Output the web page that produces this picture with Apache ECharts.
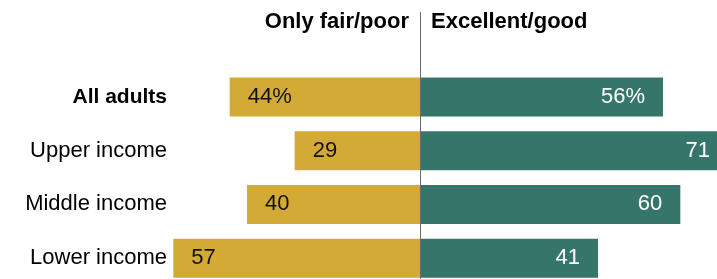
<!DOCTYPE html>
<html>
<head>
<meta charset="utf-8">
<script src="https://cdn.jsdelivr.net/npm/echarts@6/dist/echarts.min.js"></script>
<style>
  html, body { margin: 0; padding: 0; background: #fff; }
  #chart { width: 717px; height: 279px; }
</style>
</head>
<body>
<div id="chart"></div>
<script>
var categories = ['All adults', 'Upper income', 'Middle income', 'Lower income'];
var fairPoor = [44, 29, 40, 57];
var excellentGood = [56, 71, 60, 41];
var headers = ['Only fair/poor', 'Excellent/good'];

var font = "'Liberation Sans', Arial, sans-serif";
var chart = echarts.init(document.getElementById('chart'));

function valueLabel(p) {
    var v = Math.abs(p.value);
    return p.dataIndex === 0 ? v + '%' : String(v);
}

var option = {
    animation: false,
    title: [{
        text: headers[0],
        right: 308,
        top: 11,
        padding: 0,
        textStyle: { fontFamily: font, fontSize: 22, fontWeight: 'bold', color: '#000' }
    }, {
        text: headers[1],
        left: 431,
        top: 11,
        padding: 0,
        textStyle: { fontFamily: font, fontSize: 22, fontWeight: 'bold', color: '#000' }
    }],
    grid: { left: 169, right: -50, top: 70, bottom: -6, outerBoundsMode: 'none', containLabel: false },
    xAxis: {
        type: 'value',
        min: -58,
        max: 80,
        show: false
    },
    yAxis: {
        type: 'category',
        inverse: true,
        data: categories,
        axisLine: { show: false },
        axisTick: { show: false },
        axisLabel: {
            margin: 2,
            fontFamily: font,
            fontSize: 22,
            color: '#000',
            formatter: function (v, i) {
                return i === 0 ? '{b|' + v + '}' : v;
            },
            rich: { b: { fontFamily: font, fontSize: 21, fontWeight: 'bold', color: '#000' } }
        }
    },
    series: [{
        name: headers[0],
        type: 'bar',
        barWidth: 39,
        barGap: '-100%',
        data: fairPoor.map(function (v) { return -v; }),
        itemStyle: { color: '#D4AA37' },
        label: {
            show: true,
            position: 'insideLeft',
            distance: 18,
            fontFamily: font,
            fontSize: 22,
            color: '#111',
            formatter: valueLabel
        }
    }, {
        name: headers[1],
        type: 'bar',
        barWidth: 39,
        data: excellentGood,
        itemStyle: { color: '#36766A' },
        label: {
            show: true,
            position: 'insideRight',
            distance: 18,
            fontFamily: font,
            fontSize: 22,
            color: '#fff',
            formatter: valueLabel
        }
    }]
};
chart.setOption(option);

var zeroX = Math.round(chart.convertToPixel({ xAxisIndex: 0 }, 0)) + 0.5;
chart.setOption({
    graphic: [{
        type: 'line',
        z: 100,
        shape: { x1: zeroX, y1: 12, x2: zeroX, y2: 279 },
        style: { stroke: '#6b6b6b', lineWidth: 1 }
    }]
});
</script>
</body>
</html>
